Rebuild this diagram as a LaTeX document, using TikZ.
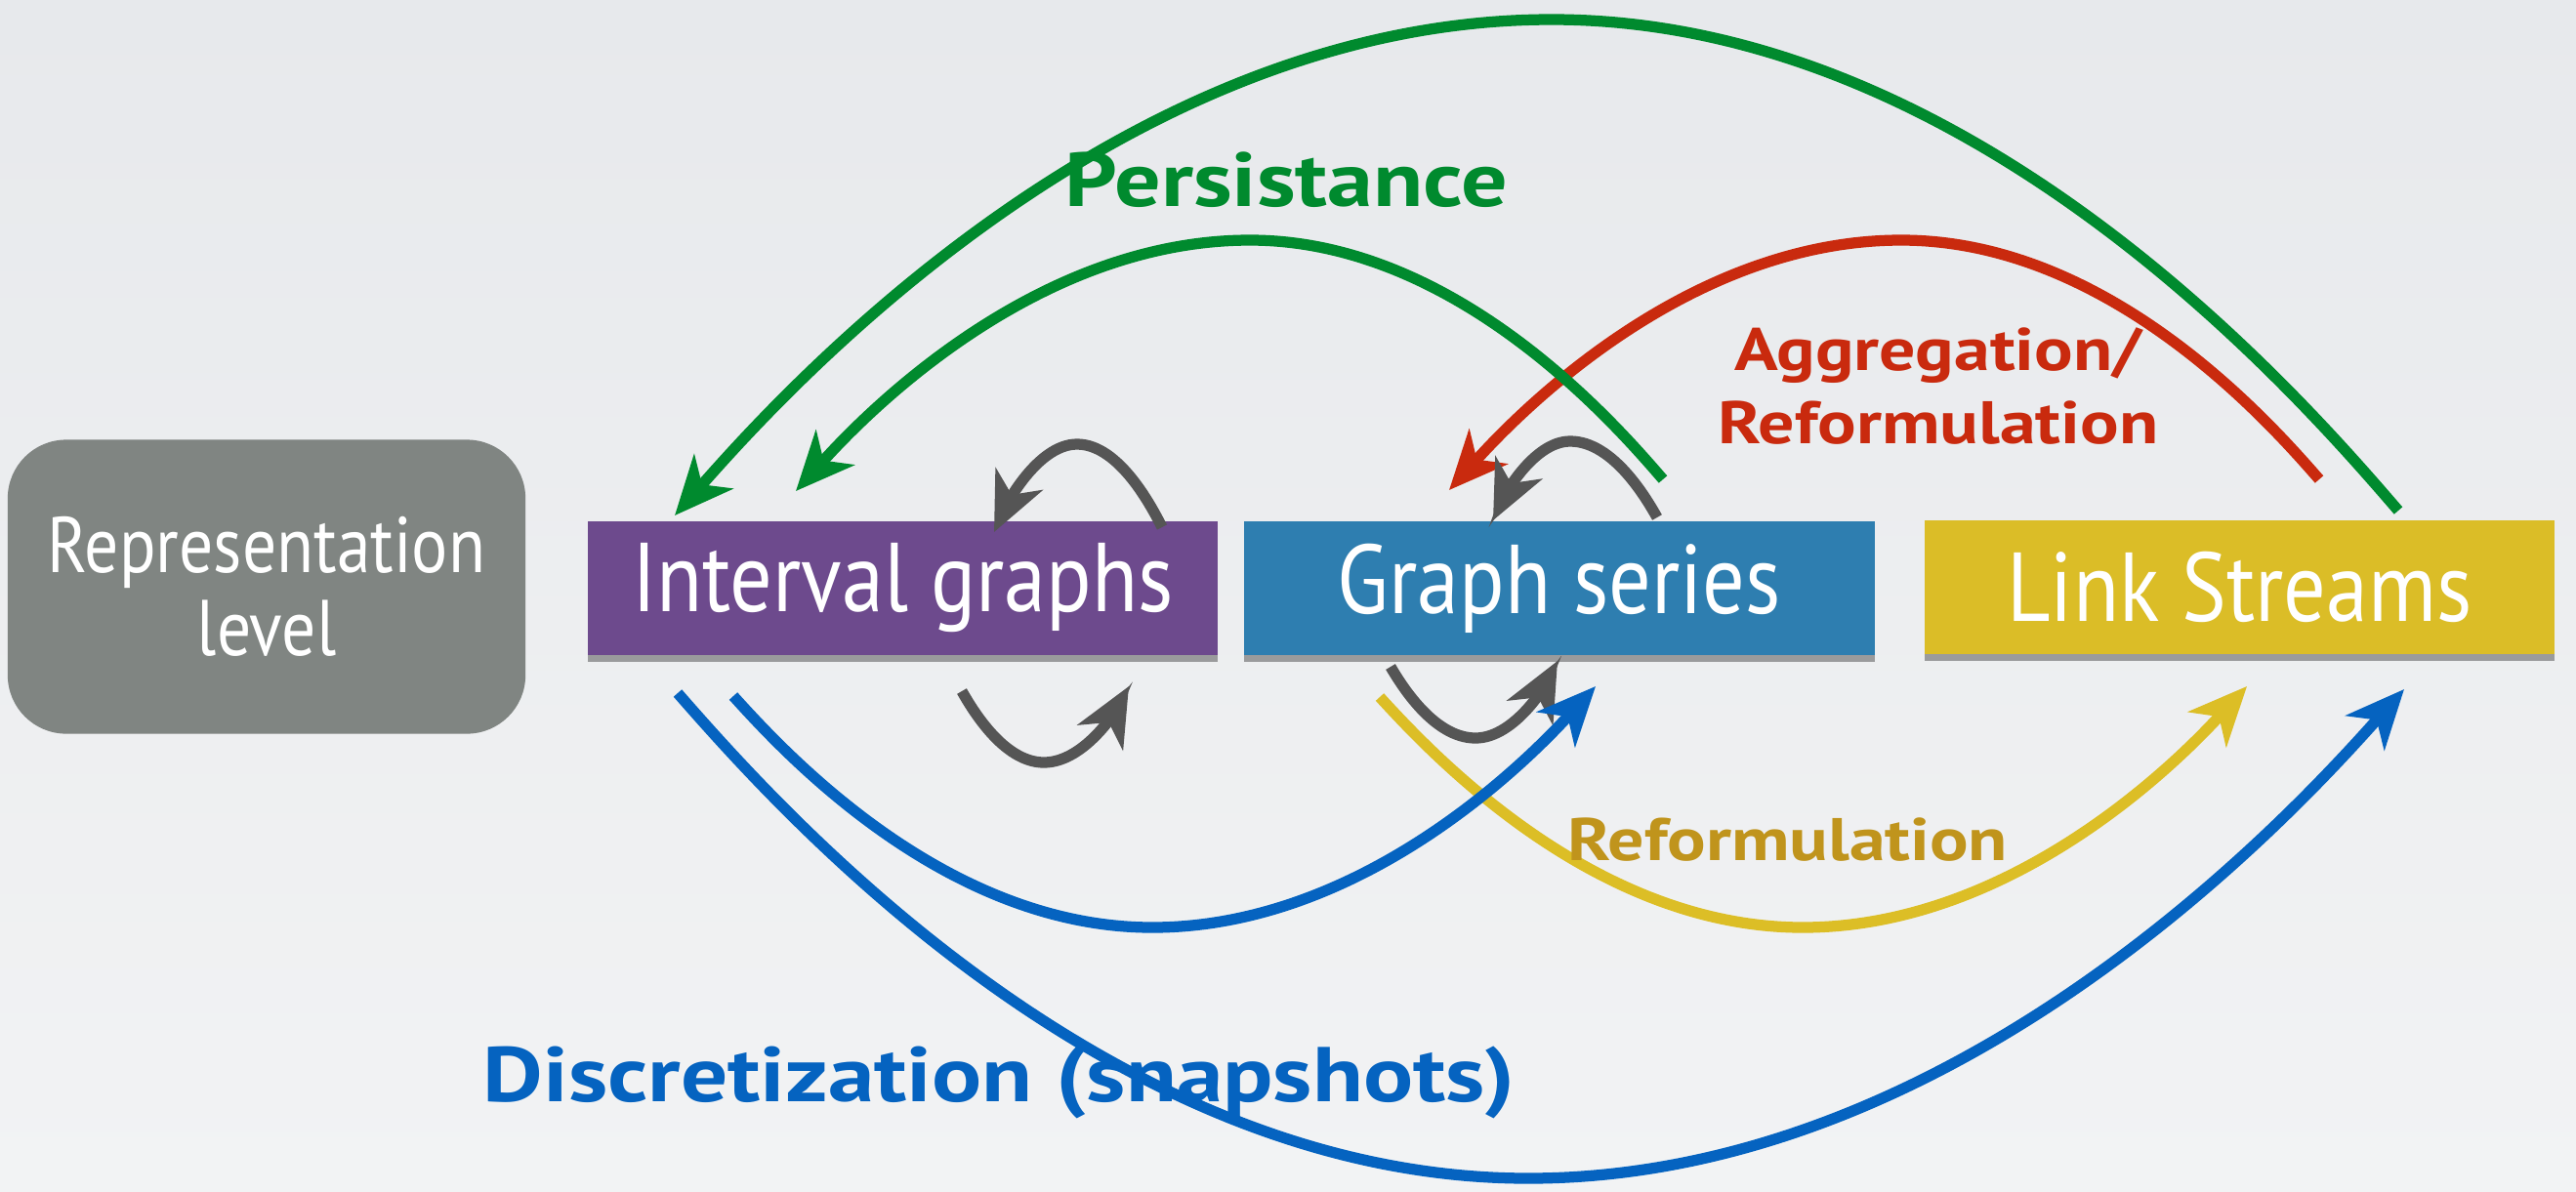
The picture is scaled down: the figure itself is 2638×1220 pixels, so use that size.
\documentclass[tikz,border=0pt]{standalone}
\usepackage{fontspec}
\setmainfont{PT Sans}
\newfontfamily\boxfont[FakeStretch=0.86]{PT Sans}
\newfontfamily\labelfont[FakeStretch=1.2]{PT Sans}
\usetikzlibrary{arrows.meta,shadows}
\definecolor{bgtop}{HTML}{E7E9EC}
\definecolor{bgbot}{HTML}{F2F3F4}
\definecolor{levelgray}{HTML}{808582}
\definecolor{purplebox}{HTML}{6D4A8D}
\definecolor{bluebox}{HTML}{2E7EB0}
\definecolor{yellowbox}{HTML}{DBBD27}
\definecolor{persgreen}{HTML}{008A2E}
\definecolor{aggred}{HTML}{C92A0E}
\definecolor{discblue}{HTML}{0563C0}
\definecolor{refyellow}{HTML}{DCBE26}
\definecolor{refgold}{HTML}{C0941C}
\definecolor{loopgray}{HTML}{555555}
\tikzset{>={Stealth[length=17pt,width=15pt,inset=5pt]}}
\tikzset{
  levelbox/.style={fill=levelgray, rounded corners=0.6cm, minimum width=5.30cm, minimum height=3.01cm,
    text=white, align=center, font=\boxfont\fontsize{23}{24}\selectfont},
  kindbox/.style={minimum width=6.45cm, minimum height=1.36cm, text=white, inner sep=0pt,
    font=\boxfont\fontsize{28.5}{30}\selectfont,
    drop shadow={shadow xshift=0pt, shadow yshift=-2pt, opacity=0.35, fill=black}},
  flow/.style={line width=3.2pt, ->},
  looparrow/.style={line width=3.2pt, ->, loopgray},
  flowlabel/.style={font=\labelfont\bfseries\fontsize{17.5}{21.3}\selectfont, inner sep=0pt}
}
\begin{document}
\begin{tikzpicture}[x=0.01cm, y=-0.01cm]
\useasboundingbox (0,0) rectangle (2638,1220);
\fill[top color=bgtop, bottom color=bgbot] (0,0) rectangle (2638,1220);
\node[levelbox] (replevel) at (273,601) {Representation\\level};
\node[kindbox, fill=purplebox] (intgraphs) at (924.5,602.5) {Interval graphs};
\node[kindbox, fill=bluebox] (graphseries) at (1597,602.5) {Graph series};
\node[kindbox, fill=yellowbox] (linkstreams) at (2293.5,601.5) {Link Streams};
\coordinate (persout) at (2456,523);
\coordinate (perstop) at (1589,20);
\coordinate (persin) at (691,528);
\coordinate (persout2) at (1703,491);
\coordinate (perstop2) at (1280,246);
\coordinate (persin2) at (815,503);
\coordinate (aggout) at (2375,491);
\coordinate (aggtop) at (1947,246);
\coordinate (aggin) at (1484,502);
\coordinate (igloopa) at (1190,540);
\coordinate (igloopt) at (1103,455);
\coordinate (igloopb) at (1018,545);
\coordinate (gsloopa) at (1697,530);
\coordinate (gsloopt) at (1608,452);
\coordinate (gsloopb) at (1529,533);
\coordinate (igdowna) at (985,708);
\coordinate (igdownb) at (1069,781);
\coordinate (igdownc) at (1156,703);
\coordinate (gsdowna) at (1424,683);
\coordinate (gsdownb) at (1511,756);
\coordinate (gsdownc) at (1595,677);
\coordinate (discout) at (751,713);
\coordinate (discbot) at (1180,950);
\coordinate (discin) at (1634,703);
\coordinate (discout2) at (694,710);
\coordinate (discbot2) at (1565,1207);
\coordinate (discin2) at (2462,706);
\coordinate (refout) at (1413,714);
\coordinate (refbot) at (1846,950);
\coordinate (refin) at (2301,703);
\draw[flow, persgreen] (persout) parabola bend (perstop) (persin);
\draw[flow, aggred] (aggout) parabola bend (aggtop) (aggin);
\draw[flow, persgreen] (persout2) parabola bend (perstop2) (persin2);
\draw[looparrow] (igloopa) parabola bend (igloopt) (igloopb);
\draw[looparrow] (gsloopa) parabola bend (gsloopt) (gsloopb);
\draw[looparrow] (igdowna) parabola bend (igdownb) (igdownc);
\draw[looparrow] (gsdowna) parabola bend (gsdownb) (gsdownc);
\draw[flow, refyellow] (refout) parabola bend (refbot) (refin);
\draw[flow, discblue] (discout) parabola bend (discbot) (discin);
\draw[flow, discblue] (discout2) parabola bend (discbot2) (discin2);
\node[flowlabel, persgreen, font=\labelfont\bfseries\fontsize{22.3}{26}\selectfont, anchor=base west] (perslabel) at (1090,211) {Persistance};
\node[flowlabel, aggred, align=center, anchor=base] (agglabel) at (1985,454) {Aggregation/\\Reformulation};
\node[flowlabel, refgold, anchor=base west] (reflabel) at (1605,881) {Reformulation};
\node[flowlabel, discblue, font=\labelfont\bfseries\fontsize{22.6}{26}\selectfont, anchor=base west] (disclabel) at (494,1128) {Discretization (snapshots)};
\end{tikzpicture}
\end{document}
